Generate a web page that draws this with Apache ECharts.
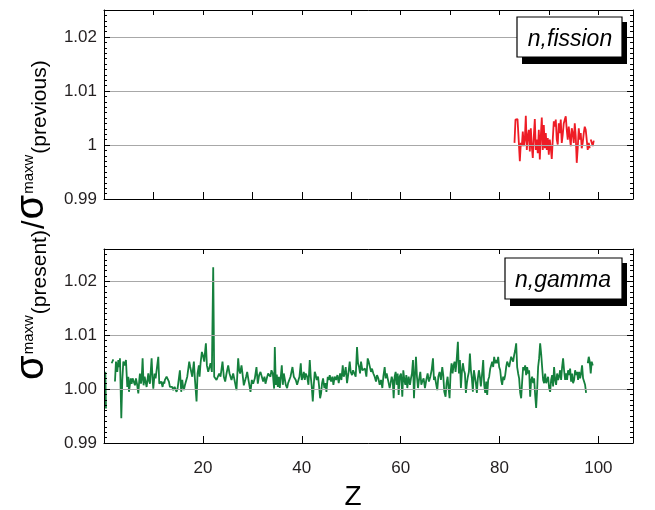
<!DOCTYPE html>
<html><head><meta charset="utf-8">
<script src="https://cdn.jsdelivr.net/npm/echarts@6/dist/echarts.min.js"></script>
<style>html,body{margin:0;padding:0;background:#fff}#c{width:655px;height:510px}</style>
</head><body><div id="c"></div>
<script>
const xTickValues = [20, 40, 60, 80, 100];
const xTickLabels = ['20', '40', '60', '80', '100'];
const yTickValues = [0.99, 1.00, 1.01, 1.02];
const topYLabels = ['0.99', '1', '1.01', '1.02'];
const bottomYLabels = ['0.99', '1.00', '1.01', '1.02'];
const panelNames = ['n,fission', 'n,gamma'];
const xTitle = 'Z';
const yTitleParts = ['σ', 'maxw', '(present)', '/', 'σ', 'maxw', '(previous)'];

const fissionPoints = [
[83.03,1.0004],[83.23,1.0047],[83.43,1.0044],[83.64,1.0048],[83.84,1.0016],[84.11,0.9970],[84.31,1.0004],[84.51,0.9998],[84.71,1.0025],[84.92,0.9998],
[85.12,1.0010],[85.32,1.0054],[85.52,0.9991],[85.72,1.0016],[85.93,1.0028],[86.13,0.9988],[86.33,1.0031],[86.53,0.9998],[86.73,0.9976],[86.94,1.0016],
[87.14,1.0048],[87.34,0.9991],[87.54,1.0010],[87.74,0.9985],[87.95,1.0028],[88.15,0.9973],[88.35,1.0016],[88.55,1.0051],[88.75,0.9991],[88.96,1.0037],
[89.16,0.9994],[89.36,1.0022],[89.56,0.9991],[89.76,1.0013],[89.97,0.9982],[90.17,1.0010],[90.37,0.9994],[90.57,0.9974],[90.77,1.0010],[90.98,1.0044],
[91.18,1.0034],[91.38,1.0047],[91.58,1.0010],[91.78,1.0001],[91.98,1.0040],[92.19,1.0022],[92.39,1.0047],[92.59,1.0004],[92.79,1.0019],[92.99,1.0040],
[93.20,1.0047],[93.40,1.0053],[93.60,1.0028],[93.80,1.0010],[94.00,1.0034],[94.21,1.0031],[94.41,0.9998],[94.61,1.0031],[94.81,1.0022],[95.02,1.0004],
[95.22,1.0040],[95.42,1.0016],[95.62,0.9967],[95.82,0.9994],[96.03,1.0031],[96.23,1.0010],[96.43,1.0022],[96.63,0.9994],[96.83,1.0004],[97.04,1.0022],
[97.24,1.0034],[97.44,1.0028],[97.64,1.0010],[97.84,0.9991],[98.05,1.0004],[98.25,0.9994],[98.35,null],[98.45,1.0010],[98.65,1.0007],[98.85,0.9998],[99.06,1.0008]
];

const gammaPoints = [
[0.27,1.0032],[0.40,0.9964],[0.98,null],[1.55,1.0048],[1.89,1.0055],[2.05,null],[2.22,1.0014],[2.42,1.0051],[2.69,1.0032],[2.90,1.0054],
[3.10,1.0041],[3.23,1.0057],[3.50,0.9946],[3.70,1.0017],[3.91,1.0051],[4.18,1.0044],[4.44,1.0054],[4.71,1.0004],[4.92,1.0023],[5.05,0.9995],
[5.39,1.0020],[5.59,1.0010],[5.79,1.0020],[6.01,1.0017],[6.13,1.0023],[6.26,1.0007],[6.46,1.0020],[6.67,1.0010],[6.94,0.9992],[7.14,1.0017],
[7.27,1.0029],[7.48,1.0010],[7.61,1.0017],[7.81,1.0057],[8.01,1.0007],[8.22,1.0023],[8.42,1.0020],[8.62,1.0004],[8.96,1.0029],[9.16,1.0014],
[9.29,1.0010],[9.63,1.0057],[9.83,1.0017],[9.97,1.0001],[10.24,1.0029],[10.44,1.0020],[10.64,1.0017],[10.98,1.0060],[11.18,1.0010],[11.31,1.0007],
[11.58,1.0014],[11.85,1.0004],[12.05,1.0014],[12.19,1.0010],[12.32,1.0017],[12.66,1.0023],[12.93,1.0020],[13.13,1.0014],[13.33,1.0004],[13.60,1.0001],
[13.80,1.0004],[14.01,0.9998],[14.28,1.0004],[14.68,0.9995],[14.88,1.0001],[15.08,0.9998],[15.35,1.0035],[15.62,0.9995],[15.83,1.0017],[15.96,1.0007],
[16.16,0.9998],[16.36,1.0007],[16.57,1.0014],[16.84,1.0023],[17.24,1.0051],[17.44,1.0041],[17.64,1.0044],[17.85,1.0023],[17.98,1.0035],[18.18,1.0051],
[18.38,1.0020],[18.52,1.0023],[18.72,0.9977],[18.92,1.0029],[19.19,1.0044],[19.33,1.0023],[19.53,1.0048],[19.80,1.0069],[20.00,1.0063],[20.27,1.0051],
[20.47,1.0072],[20.61,1.0085],[20.81,1.0044],[21.08,1.0032],[21.28,1.0035],[21.55,1.0048],[21.82,1.0032],[22.09,1.0226],[22.29,1.0023],[22.49,1.0026],
[22.76,1.0017],[23.03,1.0020],[23.30,1.0029],[23.57,1.0023],[23.77,1.0020],[23.97,1.0051],[24.24,1.0023],[24.51,1.0014],[24.78,1.0029],[25.12,1.0044],
[25.39,1.0029],[25.59,1.0023],[25.79,1.0017],[26.13,1.0029],[26.46,1.0014],[26.80,0.9998],[27.14,1.0057],[27.34,1.0035],[27.54,1.0029],[27.81,1.0044],
[28.01,1.0029],[28.28,1.0007],[28.55,1.0010],[28.75,1.0023],[28.96,1.0032],[29.22,1.0017],[29.63,0.9995],[29.90,1.0017],[30.17,1.0010],[30.51,1.0020],
[30.84,1.0041],[31.11,1.0010],[31.38,1.0026],[31.65,1.0032],[31.92,1.0029],[32.19,1.0014],[32.46,1.0023],[32.66,1.0010],[32.93,1.0020],[33.20,1.0029],
[33.47,1.0032],[33.67,1.0023],[33.87,1.0035],[34.14,1.0029],[34.41,1.0001],[34.55,1.0078],[34.75,1.0008],[34.95,1.0027],[35.16,1.0004],[35.36,1.0023],
[35.56,1.0002],[35.76,1.0005],[35.96,1.0044],[36.17,1.0008],[36.37,1.0029],[36.57,1.0026],[36.77,1.0008],[37.04,1.0002],[37.24,1.0011],[37.45,1.0008],
[37.72,1.0023],[37.92,1.0032],[38.12,1.0041],[38.39,1.0023],[38.59,1.0026],[38.79,1.0017],[39.06,1.0008],[39.33,1.0017],[39.53,1.0023],[39.80,1.0048],
[40.00,1.0017],[40.21,1.0023],[40.41,1.0032],[40.61,1.0017],[40.81,1.0029],[41.08,1.0023],[41.35,1.0008],[41.62,1.0054],[41.82,1.0023],[42.02,1.0005],
[42.23,0.9977],[42.43,1.0008],[42.63,1.0032],[42.83,1.0026],[43.03,1.0017],[43.30,1.0023],[43.51,1.0005],[43.71,0.9983],[43.91,0.9992],[44.11,1.0011],
[44.31,1.0020],[44.58,1.0002],[44.79,1.0011],[44.99,0.9995],[45.26,1.0023],[45.46,1.0017],[45.66,1.0026],[45.93,1.0014],[46.20,1.0023],[46.40,1.0008],
[46.67,1.0023],[46.94,1.0017],[47.21,1.0026],[47.48,1.0011],[47.75,1.0029],[48.02,1.0017],[48.29,1.0044],[48.49,1.0023],[48.69,1.0029],[48.89,1.0041],
[49.16,1.0011],[49.43,1.0029],[49.70,1.0051],[49.90,1.0032],[50.17,1.0026],[50.38,1.0035],[50.65,1.0032],[50.91,1.0023],[51.18,1.0078],[51.38,1.0048],
[51.59,1.0041],[51.79,1.0029],[51.99,1.0051],[52.26,1.0035],[52.53,1.0032],[52.80,1.0038],[53.07,1.0023],[53.34,1.0057],[53.54,1.0051],[53.74,1.0048],
[54.01,1.0032],[54.21,1.0038],[54.48,1.0029],[54.75,1.0023],[55.02,1.0014],[55.22,1.0026],[55.49,1.0020],[55.76,1.0008],[56.03,1.0017],[56.30,1.0002],
[56.50,1.0023],[56.77,1.0041],[56.97,1.0020],[57.18,1.0029],[57.38,1.0020],[57.58,1.0011],[57.78,1.0002],[57.98,1.0011],[58.19,1.0023],[58.39,1.0017],
[58.59,0.9983],[58.79,1.0023],[58.99,1.0032],[59.20,1.0008],[59.40,1.0029],[59.60,0.9989],[59.80,1.0023],[60.07,1.0029],[60.34,0.9986],[60.54,1.0035],
[60.75,1.0017],[60.95,1.0008],[61.15,1.0026],[61.35,1.0002],[61.62,1.0023],[61.89,1.0008],[62.09,1.0020],[62.29,1.0029],[62.50,1.0054],[62.70,0.9983],
[62.90,1.0026],[63.10,1.0060],[63.30,1.0023],[63.51,1.0002],[63.71,1.0017],[63.98,1.0032],[64.18,1.0008],[64.38,1.0014],[64.65,1.0020],[64.92,1.0002],
[65.19,1.0017],[65.46,1.0029],[65.73,1.0014],[66.00,1.0023],[66.27,1.0035],[66.54,1.0057],[66.74,1.0017],[66.94,1.0023],[67.21,1.0008],[67.41,0.9998],
[67.62,1.0023],[67.88,1.0032],[68.15,1.0017],[68.42,1.0041],[68.62,1.0026],[68.83,0.9995],[69.09,0.9986],[69.29,1.0011],[69.50,1.0023],[69.70,1.0002],
[69.90,0.9983],[70.10,1.0029],[70.30,1.0048],[70.51,1.0029],[70.71,1.0044],[70.91,1.0051],[71.11,1.0032],[71.31,1.0051],[71.58,1.0088],[71.79,1.0029],
[71.99,1.0054],[72.19,1.0002],[72.39,1.0032],[72.59,1.0048],[72.80,1.0035],[73.00,1.0029],[73.20,0.9993],[73.40,1.0011],[73.60,1.0023],[73.81,1.0032],
[74.01,1.0066],[74.21,1.0035],[74.41,1.0020],[74.61,0.9995],[74.82,1.0035],[75.02,1.0023],[75.22,1.0011],[75.42,0.9993],[75.62,1.0020],[75.83,1.0035],
[76.03,1.0023],[76.23,1.0005],[76.43,1.0023],[76.70,1.0054],[76.90,1.0008],[77.11,0.9993],[77.31,1.0014],[77.51,0.9989],[77.71,1.0017],[77.91,1.0023],
[78.12,1.0038],[78.32,1.0035],[78.52,1.0051],[78.72,1.0041],[78.92,1.0060],[79.12,1.0048],[79.33,1.0054],[79.53,1.0048],[79.73,1.0060],[79.93,1.0041],
[80.14,1.0035],[80.34,1.0017],[80.54,1.0008],[80.74,1.0023],[80.94,1.0017],[81.15,1.0026],[81.35,1.0041],[81.55,1.0051],[81.75,1.0048],[81.95,1.0041],
[82.16,1.0051],[82.36,1.0060],[82.56,1.0063],[82.76,1.0051],[82.96,1.0063],[83.17,1.0072],[83.37,1.0085],[83.57,1.0041],[83.77,1.0029],[83.97,1.0020],
[84.18,0.9993],[84.38,0.9983],[84.58,1.0014],[84.78,1.0041],[84.98,1.0035],[85.19,1.0044],[85.39,1.0026],[85.59,1.0041],[85.79,1.0029],[85.99,1.0035],
[86.20,0.9986],[86.40,1.0017],[86.60,1.0023],[86.80,1.0011],[87.00,1.0020],[87.21,0.9989],[87.41,0.9965],[87.61,0.9999],[87.81,1.0041],[88.01,1.0057],
[88.22,1.0085],[88.42,1.0066],[88.62,1.0041],[88.82,1.0017],[89.02,1.0011],[89.23,1.0029],[89.43,1.0011],[89.63,1.0008],[89.83,1.0023],[90.03,1.0002],
[90.24,0.9995],[90.44,1.0017],[90.64,1.0026],[90.84,1.0005],[91.04,1.0041],[91.25,1.0017],[91.45,1.0008],[91.65,1.0029],[91.85,1.0017],[92.05,1.0023],
[92.26,1.0035],[92.46,1.0017],[92.66,1.0041],[92.86,1.0057],[93.06,1.0035],[93.27,1.0017],[93.47,1.0029],[93.67,1.0017],[93.87,1.0035],[94.07,1.0026],
[94.28,1.0038],[94.48,1.0014],[94.68,1.0029],[94.88,1.0011],[95.09,1.0017],[95.29,1.0035],[95.49,1.0026],[95.69,1.0032],[95.89,1.0017],[96.10,1.0032],
[96.30,1.0020],[96.50,1.0029],[96.70,1.0044],[96.90,1.0020],[97.11,1.0023],[97.31,1.0008],[97.51,0.9993],[97.68,null],[97.85,1.0048],[98.05,1.0060],
[98.25,1.0051],[98.45,1.0029],[98.65,1.0051],[98.86,1.0044]
];

const FONT = '"Liberation Sans", Arial, Helvetica, sans-serif';
const TXT = '#231f20';

function pickLabel(v, values, labels) {
  for (let i = 0; i < values.length; i++) {
    if (Math.abs(v - values[i]) < 1e-7) return labels[i];
  }
  return '';
}

const grids = [
  { left: 104, top: 10, width: 529, height: 189 },
  { left: 104, top: 249, width: 529, height: 194 }
];
const yMax = [1.025, 1.026];

function xAxisDef(g, pos, interval, labels) {
  return {
    type: 'value', gridIndex: g, position: pos, min: 0, max: 107, interval: interval,
    axisLine: { show: true, onZero: false, lineStyle: { color: '#000', width: 1 } },
    axisTick: { show: true, inside: true, length: pos === 'bottom' ? 7 : 5, lineStyle: { color: '#000', width: 1 } },
    axisLabel: { show: !!labels, margin: 17, fontSize: 17, color: TXT, fontFamily: FONT,
      formatter: v => pickLabel(v, xTickValues, xTickLabels) },
    splitLine: { show: false }, z: 5
  };
}
function yMajorDef(g, pos, labels) {
  return {
    type: 'value', gridIndex: g, position: pos, min: 0.99, max: yMax[g], interval: 0.01,
    axisLine: { show: true, onZero: false, lineStyle: { color: '#000', width: 1 } },
    axisTick: { show: true, inside: true, length: 6, lineStyle: { color: '#000', width: 1 } },
    axisLabel: { show: !!labels, margin: 7, fontSize: 17, color: TXT, fontFamily: FONT,
      formatter: v => labels ? pickLabel(v, yTickValues, labels) : '' },
    splitLine: { show: pos === 'left', lineStyle: { color: '#a8a8a8', width: 1.2 } },
    z: 4
  };
}
function yMinorDef(g, pos) {
  return {
    type: 'value', gridIndex: g, position: pos, min: 0.99, max: yMax[g], interval: 0.001,
    axisLine: { show: false, onZero: false },
    axisTick: { show: true, inside: true, length: 3, lineStyle: { color: '#000', width: 1 } },
    axisLabel: { show: false }, splitLine: { show: false }, z: 4
  };
}

const xAxes = [
  xAxisDef(0, 'bottom', 10, false), xAxisDef(0, 'top', 10, false),
  xAxisDef(1, 'bottom', 20, true), xAxisDef(1, 'top', 20, false)
];
const yAxes = [
  yMajorDef(0, 'left', topYLabels), yMinorDef(0, 'left'), yMajorDef(0, 'right', null), yMinorDef(0, 'right'),
  yMajorDef(1, 'left', bottomYLabels), yMinorDef(1, 'left'), yMajorDef(1, 'right', null), yMinorDef(1, 'right')
];

function legendBox(x, y, w, h, label, tx, ty) {
  return [
    { type: 'rect', shape: { x: x + 5, y: y + 5, width: w, height: h + 2 }, style: { fill: '#000' }, z: 10 },
    { type: 'rect', shape: { x: x, y: y, width: w, height: h }, style: { fill: '#fff', stroke: '#000', lineWidth: 1.2 }, z: 11 },
    { type: 'text', x: tx, y: ty, style: { text: label, font: 'italic 23px ' + FONT, fill: '#000', align: 'center', verticalAlign: 'middle' }, z: 12 }
  ];
}

// rotated y-axis title built piece by piece (superscripts / subscripts)
const titleSizes = [40, 15, 21, 31, 40, 15, 21];
const titleBaselines = [46, 34, 47, 46, 46, 34, 47];
function yTitleGraphics() {
  const ctx = document.createElement('canvas').getContext('2d');
  const out = [];
  let y = 380;
  yTitleParts.forEach((t, i) => {
    const f = titleSizes[i];
    ctx.font = f + 'px ' + FONT;
    const w = ctx.measureText(t).width;
    out.push({ type: 'text', x: titleBaselines[i] - 0.3465 * f, y: y, rotation: Math.PI / 2,
      style: { text: t, font: f + 'px ' + FONT, fill: '#000', align: 'left', verticalAlign: 'middle' } });
    y -= w + 1;
  });
  return out;
}

const option = {
  animation: false,
  backgroundColor: '#fff',
  grid: grids,
  xAxis: xAxes,
  yAxis: yAxes,
  series: [
    { type: 'line', xAxisIndex: 0, yAxisIndex: 0, data: fissionPoints, showSymbol: false, connectNulls: false,
      lineStyle: { color: '#ee1c25', width: 1.8 }, itemStyle: { color: '#ee1c25' }, z: 3 },
    { type: 'line', xAxisIndex: 2, yAxisIndex: 4, data: gammaPoints, showSymbol: false, connectNulls: false,
      lineStyle: { color: '#15803d', width: 1.8 }, itemStyle: { color: '#15803d' }, z: 3 }
  ],
  graphic: [
    ...legendBox(517, 17, 105, 40, panelNames[0], 570, 40),
    ...legendBox(505, 258, 117, 41, panelNames[1], 563, 281),
    { type: 'text', x: 353, y: 497, style: { text: xTitle, font: '28px ' + FONT, fill: '#000', align: 'center', verticalAlign: 'middle' } },
    ...yTitleGraphics()
  ]
};

const chart = echarts.init(document.getElementById('c'), null, { renderer: 'canvas' });
chart.setOption(option);
</script>
</body></html>
